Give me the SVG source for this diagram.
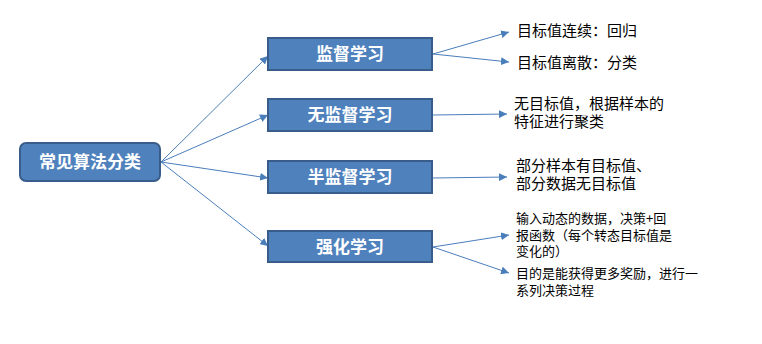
<svg xmlns="http://www.w3.org/2000/svg" width="762" height="344" viewBox="0 0 762 344">
<style>
.box{fill:#4f81bd;stroke:#385d8a;stroke-width:2}
.bt{font-family:"Noto Sans CJK SC","Liberation Sans",sans-serif;font-size:17px;font-weight:bold;fill:#ffffff;text-anchor:middle}
.lt{font-family:"Noto Sans CJK SC","Liberation Sans",sans-serif;font-size:15px;fill:#000000}
.st{font-family:"Noto Sans CJK SC","Liberation Sans",sans-serif;font-size:13px;fill:#000000}
.c{fill:none;stroke:#4a7ebb;stroke-width:1;marker-end:url(#ah)}
</style>
<defs>
<marker id="ah" viewBox="0 0 10 10" refX="10" refY="5" markerWidth="8" markerHeight="8" markerUnits="userSpaceOnUse" orient="auto">
<path d="M0,0 L10,5 L0,10 z" fill="#4a7ebb"/>
</marker>
</defs>
<rect width="762" height="344" fill="#ffffff"/>
<g id="connectors">
<line class="c" x1="161" y1="162" x2="268" y2="56"/>
<line class="c" x1="161" y1="162" x2="268" y2="115"/>
<line class="c" x1="161" y1="162" x2="268" y2="178"/>
<line class="c" x1="161" y1="162" x2="268" y2="246"/>
<line class="c" x1="433" y1="54" x2="509" y2="32"/>
<line class="c" x1="433" y1="54" x2="509" y2="62"/>
<line class="c" x1="433" y1="115" x2="507" y2="114"/>
<line class="c" x1="433" y1="178" x2="507" y2="177"/>
<line class="c" x1="433" y1="247" x2="509" y2="235"/>
<line class="c" x1="433" y1="247" x2="509" y2="273"/>
</g>
<g id="root">
<rect class="box" x="20" y="143" width="140" height="38" rx="6"/>
<text class="bt" x="90" y="168">常见算法分类</text>
</g>
<g id="supervised">
<rect class="box" x="268" y="38" width="164" height="32"/>
<text class="bt" x="350" y="60">监督学习</text>
</g>
<g id="unsupervised">
<rect class="box" x="268" y="99" width="164" height="32"/>
<text class="bt" x="350" y="121">无监督学习</text>
</g>
<g id="semisupervised">
<rect class="box" x="268" y="161" width="164" height="32"/>
<text class="bt" x="350" y="183">半监督学习</text>
</g>
<g id="reinforcement">
<rect class="box" x="268" y="231" width="164" height="31"/>
<text class="bt" x="350" y="253">强化学习</text>
</g>
<g id="regression">
<text class="lt" x="517" y="36">目标值连续：回归</text>
</g>
<g id="classification">
<text class="lt" x="517" y="68">目标值离散：分类</text>
</g>
<g id="clustering">
<text class="lt" x="514" y="109">无目标值，根据样本的</text>
<text class="lt" x="514" y="127">特征进行聚类</text>
</g>
<g id="semi-desc">
<text class="lt" x="516" y="171">部分样本有目标值、</text>
<text class="lt" x="516" y="189">部分数据无目标值</text>
</g>
<g id="rl-desc1">
<text class="st" x="516" y="223">输入动态的数据，决策+回</text>
<text class="st" x="516" y="240">报函数（每个转态目标值是</text>
<text class="st" x="516" y="256">变化的）</text>
</g>
<g id="rl-desc2">
<text class="st" x="516" y="278">目的是能获得更多奖励，进行一</text>
<text class="st" x="516" y="295">系列决策过程</text>
</g>
</svg>
